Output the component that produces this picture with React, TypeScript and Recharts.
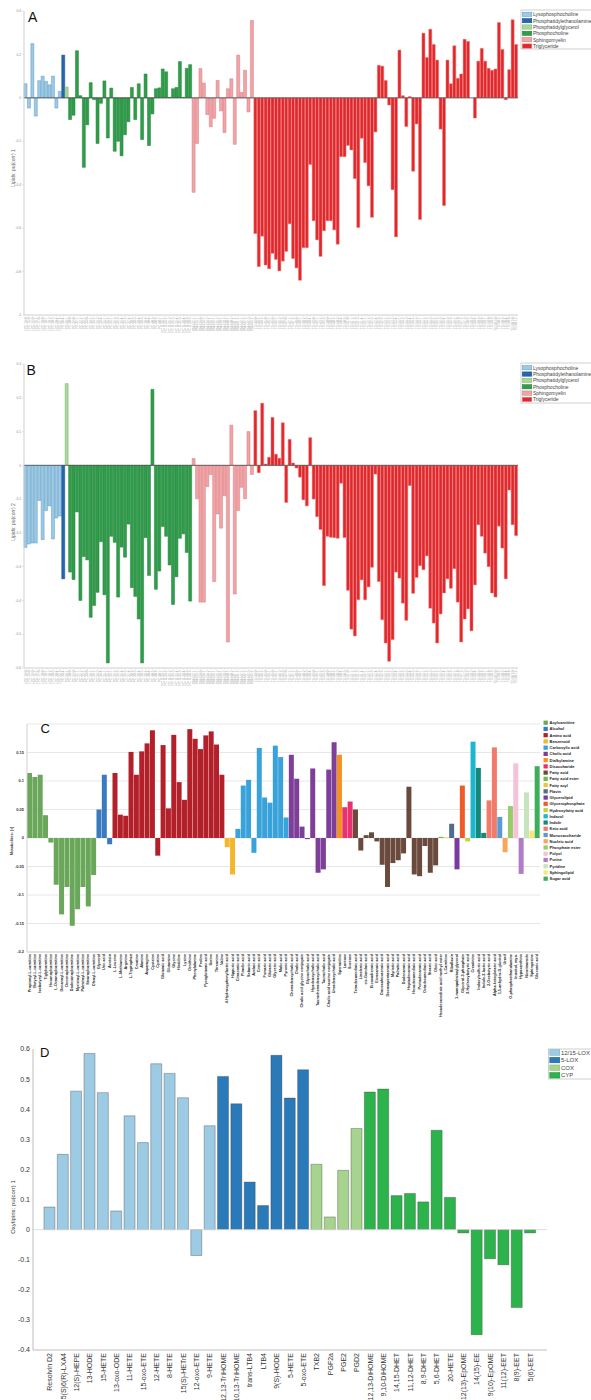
import React from 'react';
import { BarChart, Bar, XAxis, YAxis, Cell, ReferenceLine, CartesianGrid } from 'recharts';

const FONT = '"Liberation Sans", Arial, sans-serif';

// ---------- Panels A / B : lipids ----------
const lipidClasses = ['Lysophosphocholine', 'Phosphatidylethanolamine', 'Phosphatidylglycerol', 'Phosphocholine', 'Sphingomyelin', 'Triglyceride'];
const lipidColors = ['#9dc9e3', '#2467ae', '#a9d69a', '#2f9d4a', '#f2a3a6', '#e0282c'];
const lipidEdges = ['#5d9ac6', '#1b4e86', '#7cb56a', '#23803a', '#d37a7e', '#f07677'];

const lpcNames = ['LPC 14:0', 'LPC 15:0', 'LPC 16:0', 'LPC 16:1', 'LPC 17:0', 'LPC 18:0', 'LPC 18:1', 'LPC 18:2', 'LPC 20:3', 'LPC 20:4', 'LPC 22:6'];
const peNames = ['PE 38:4'];
const pgNames = ['PG 34:1'];
const pcNames = ['PC 30:0', 'PC 32:0', 'PC 32:1', 'PC 32:2', 'PC 33:1', 'PC 34:0', 'PC 34:1', 'PC 34:2', 'PC 34:3', 'PC 34:4', 'PC 35:1', 'PC 35:2', 'PC 36:1', 'PC 36:2', 'PC 36:3', 'PC 36:4', 'PC 36:5', 'PC 37:4', 'PC 38:2', 'PC 38:3', 'PC 38:4', 'PC 38:5', 'PC 38:6', 'PC 40:4', 'PC 40:5', 'PC 40:6', 'PC 40:7', 'PC O-34:1', 'PC O-34:2', 'PC O-36:2', 'PC O-36:3', 'PC O-36:4', 'PC O-36:5', 'PC O-38:4', 'PC O-38:5', 'PC O-38:6'];
const smNames = ['SM d32:1', 'SM d33:1', 'SM d34:0', 'SM d34:1', 'SM d34:2', 'SM d35:1', 'SM d36:1', 'SM d36:2', 'SM d38:1', 'SM d38:2', 'SM d40:1', 'SM d40:2', 'SM d41:1', 'SM d41:2', 'SM d42:1', 'SM d42:2', 'SM d42:3', 'SM d43:2'];
const tgNames = ['TG 44:0', 'TG 44:1', 'TG 44:2', 'TG 45:0', 'TG 45:1', 'TG 46:0', 'TG 46:1', 'TG 46:2', 'TG 46:3', 'TG 47:0', 'TG 47:1', 'TG 47:2', 'TG 48:0', 'TG 48:1', 'TG 48:2', 'TG 48:3', 'TG 48:4', 'TG 49:0', 'TG 49:1', 'TG 49:2', 'TG 49:3', 'TG 50:0', 'TG 50:1', 'TG 50:2', 'TG 50:3', 'TG 50:4', 'TG 50:5', 'TG 51:0', 'TG 51:1', 'TG 51:2', 'TG 51:3', 'TG 51:4', 'TG 52:1', 'TG 52:2', 'TG 52:3', 'TG 52:4', 'TG 52:5', 'TG 52:6', 'TG 53:1', 'TG 53:2', 'TG 53:3', 'TG 53:4', 'TG 54:1', 'TG 54:2', 'TG 54:3', 'TG 54:4', 'TG 54:5', 'TG 54:6', 'TG 54:7', 'TG 55:1', 'TG 55:2', 'TG 55:3', 'TG 56:1', 'TG 56:2', 'TG 56:3', 'TG 56:4', 'TG 56:5', 'TG 56:6', 'TG 56:7', 'TG 56:8', 'TG 57:2', 'TG 57:3', 'TG 58:2', 'TG 58:3', 'TG 58:4', 'TG 58:5', 'TG 58:6', 'TG 58:7', 'TG 58:8', 'TG 58:9', 'TG 58:10', 'TG 60:2', 'TG 60:3', 'TG 60:4', 'TG 60:8', 'TG 60:10', 'TG 60:12'];

// pu(corr) 1
const pc1LPC = [0.065, -0.047, 0.25, -0.084, 0.079, 0.1, 0.076, 0.06, 0.1, -0.047, 0.03];
const pc1PE = [0.197];
const pc1PG = [0.05];
const pc1PC = [-0.1, -0.08, 0.217, 0.01, -0.32, -0.124, 0.07, -0.008, -0.21, -0.025, 0.078, -0.185, 0.045, -0.246, -0.2, -0.267, -0.17, -0.11, 0.048, -0.1, 0.065, -0.192, 0.11, -0.22, -0.074, 0.042, 0.046, 0.133, 0.12, 0.002, 0.042, 0.048, 0.167, 0.002, 0.136, 0.153];
const pc1SM = [-0.435, -0.21, 0.135, 0.068, -0.077, -0.133, -0.094, 0.08, -0.06, -0.16, 0.042, 0.088, -0.214, 0.197, 0.025, 0.127, -0.065, 0.357];
const pc1TG = [-0.625, -0.777, -0.637, -0.77, -0.787, -0.716, -0.744, -0.797, -0.752, -0.707, -0.58, -0.74, -0.783, -0.84, -0.69, -0.69, -0.307, -0.566, -0.654, -0.73, -0.612, -0.566, -0.566, -0.608, -0.674, -0.271, -0.271, -0.219, -0.24, -0.372, -0.597, -0.186, -0.298, -0.405, -0.55, -0.157, 0.15, 0.146, 0.08, -0.033, -0.423, -0.64, 0.22, 0.01, -0.132, 0.006, -0.338, -0.12, -0.56, 0.298, 0.186, 0.316, 0.246, 0.174, -0.144, -0.496, 0.174, 0.065, 0.24, 0.09, 0.11, 0.27, 0.26, 0.0, -0.093, 0.169, 0.228, 0.169, 0.136, 0.127, 0.133, 0.347, 0.223, -0.009, 0.13, 0.36, 0.246];

// pu(corr) 2
const pc2LPC = [-0.243, -0.233, -0.23, -0.23, -0.104, -0.22, -0.134, -0.12, -0.218, -0.156, -0.15];
const pc2PE = [-0.336];
const pc2PG = [0.242];
const pc2PC = [-0.316, -0.338, -0.138, -0.4, -0.27, -0.28, -0.45, -0.415, -0.376, -0.226, -0.383, -0.585, -0.21, -0.228, -0.39, -0.242, -0.272, -0.174, -0.362, -0.388, -0.455, -0.585, -0.214, -0.326, 0.225, -0.367, -0.313, -0.181, -0.21, -0.295, -0.412, -0.33, -0.216, -0.203, -0.258, -0.402];
const pc2SM = [0.02, -0.099, -0.405, -0.405, -0.063, -0.027, -0.344, -0.144, -0.186, -0.09, -0.523, 0.119, -0.381, -0.134, -0.065, -0.099, 0.1, -0.027];
const pc2TG = [0.162, -0.022, 0.184, 0.004, 0.024, 0.142, 0.033, 0.021, 0.126, -0.11, 0.077, 0.007, -0.008, -0.035, -0.102, -0.12, 0.082, -0.1, -0.152, -0.19, -0.356, -0.21, -0.213, -0.214, -0.216, -0.053, -0.214, -0.37, -0.485, -0.505, -0.398, -0.339, -0.398, -0.36, -0.302, -0.026, -0.344, -0.457, -0.526, -0.58, -0.516, -0.316, -0.334, -0.408, -0.459, -0.06, -0.379, -0.332, -0.297, -0.309, -0.268, -0.423, -0.467, -0.526, -0.44, -0.378, -0.336, -0.364, -0.306, -0.405, -0.523, -0.455, -0.425, -0.49, -0.354, -0.176, -0.21, -0.26, -0.3, -0.378, -0.39, -0.18, -0.245, -0.336, -0.073, -0.176, -0.208];

const ticksA = [-1, -0.8, -0.6, -0.4, -0.2, 0, 0.2, 0.4];
const ticksB = [-0.6, -0.5, -0.4, -0.3, -0.2, -0.1, 0, 0.1, 0.2, 0.3];

const lipidGroups = [lpcNames, peNames, pgNames, pcNames, smNames, tgNames];
const pc1 = [...pc1LPC, ...pc1PE, ...pc1PG, ...pc1PC, ...pc1SM, ...pc1TG];
const pc2 = [...pc2LPC, ...pc2PE, ...pc2PG, ...pc2PC, ...pc2SM, ...pc2TG];
const lipidRows = lipidGroups
  .flatMap((names, c) => names.map((name) => ({ name, cls: c })))
  .map((r, i) => ({ ...r, a: pc1[i], b: pc2[i] }));

// ---------- Panel C : metabolites ----------
const metaboliteClasses = ['Acylcarnitine', 'Alcohol', 'Amino acid', 'Benzenoid', 'Carboxylic acid', 'Cholic acid', 'Dialkylamine', 'Disaccharide', 'Fatty acid', 'Fatty acid ester', 'Fatty acyl', 'Flavin', 'Glycerolipid', 'Glycerophosphate', 'Hydroxyfatty acid', 'Indazol', 'Indole', 'Keto acid', 'Monosaccharide', 'Nucleic acid', 'Phosphate ester', 'Polyol', 'Purine', 'Pyridine', 'Sphingolipid', 'Sugar acid'];
const metaboliteColors = ['#6aa75a', '#3a7bc0', '#b3202a', '#f4b62a', '#3aa2da', '#7e3f98', '#f5921e', '#e8316f', '#6b4a3e', '#6cba50', '#f3c33e', '#4e6e8e', '#7b3aa0', '#f05a2a', '#c4d23a', '#1db6d0', '#14897a', '#f07b6b', '#5a9bd5', '#f8a65b', '#98cb6a', '#f6c2d8', '#b07cc6', '#c6e4bf', '#f9e57a', '#3fae5b'];
const metaboliteClassSizes = [13, 3, 21, 2, 10, 9, 1, 2, 16, 1, 1, 1, 1, 1, 1, 1, 2, 2, 1, 1, 1, 1, 1, 1, 1, 1];
const metaboliteNames = [
  'Propionyl-L-carnitine', 'Butyryl-L-carnitine', 'Isobutyryl-L-carnitine', 'Tiglylcarnitine', 'Hexanoylcarnitine', 'L-Octanoylcarnitine', 'Decanoyl-L-carnitine', 'Decenoylcarnitine', 'Dodecanoylcarnitine', 'Myristoyl-L-carnitine', 'Palmitoyl-L-carnitine', 'Stearoylcarnitine', 'Oleoyl-L-carnitine',
  'Glycerol', 'Uric acid', 'Acetoin',
  'L-Leucine', 'L-Methionine', 'Arginine', 'L-Tryptophan', 'Creatine', 'Alanine', 'Asparagine', 'Cysteine', 'Cystine', 'Glutamic acid', 'Glutamine', 'Glycine', 'Histidine', 'Lysine', 'Ornithine', 'Phenylalanine', 'Proline', 'Pyroglutamic acid', 'Serine', 'Threonine', 'Valine',
  '4-Hydroxyphenyllactic acid', 'Hippuric acid',
  'Citraconic acid', 'Pimelic acid', 'Sebacic acid', 'Azelaic acid', 'Citric acid', 'Fumaric acid', 'Glutaric acid', 'Glyceric acid', 'Malic acid', 'Pyruvic acid',
  'Chenodeoxycholic acid', 'Cholic acid', 'Cholic acid glycine conjugate', 'Glycocholic acid', 'Hyodeoxycholic acid', 'Taurochenodeoxycholic acid', 'Taurocholic acid', 'Cholic acid taurine conjugate', 'Ursodeoxycholic acid',
  'Spermidine',
  'Lactose', 'Sucrose',
  'Tetradecanedioic acid', 'Linolenic acid', 'cis-Gondoic acid', 'Eicosadienoic acid', 'Eicosanoic acid', 'Docosahexaenoic acid', 'Docosapentaenoic acid', 'Myristic acid', 'Palmitic acid', 'Dodecanoic acid', 'Heptadecanoic acid', 'Hexadecanedioic acid', 'Pentadecanoic acid', 'Octadecanedioic acid', 'Stearic acid', 'Oleic acid',
  'Hexadecanedioic acid methyl ester', 'L-Carnitine', 'Riboflavin', '1-monopalmitoylglycerol', 'Glycerol-3-phosphate', '3-Hydroxybutyric acid', 'Creatinine',
  'Indoxylsulfuric acid', 'Indole-3-lactic acid', '2-Oxobutyric acid', 'Alpha-ketoglutaric acid',
  '1,5-anhydro-D-glucitol', 'Uracil', 'O-phosphoethanolamine', 'Inositol, myo-', 'Hypoxanthine', 'Nicotinamide', 'Sphingosine', 'Gluconic acid',
];
const metaboliteR = [
  0.114, 0.107, 0.111, 0.04, -0.008, -0.082, -0.134, -0.086, -0.154, -0.125, -0.086, -0.12, -0.065,
  0.05, 0.111, -0.011,
  0.114, 0.041, 0.039, 0.151, 0.111, 0.152, 0.166, 0.189, -0.031, 0.163, 0.052, 0.181, 0.098, 0.067, 0.191, 0.174, 0.156, 0.18, 0.187, 0.164, 0.111,
  -0.016, -0.064,
  0.016, 0.092, 0.102, -0.026, 0.158, 0.071, 0.062, 0.162, 0.142, 0.036,
  0.146, 0.104, 0.02, -0.002, 0.122, -0.061, -0.055, 0.12, 0.168,
  0.146,
  0.054, 0.064,
  0.05, -0.022, 0.005, 0.01, -0.006, -0.047, -0.086, -0.044, -0.039, -0.027, 0.09, -0.064, -0.067, -0.014, -0.061, -0.048,
  0.002, 0.001, 0.025, -0.055, 0.092, -0.006, 0.169,
  0.123, 0.009, 0.066, 0.159,
  0.037, -0.025, 0.056, 0.131, -0.063, 0.08, 0.013, 0.126,
];
const ticksC = [-0.2, -0.15, -0.1, -0.05, 0, 0.05, 0.1, 0.15];

const metaboliteClassOf = metaboliteClassSizes.flatMap((n, c) => Array(n).fill(c));
const metaboliteRows = metaboliteNames.map((name, i) => ({ name, r: metaboliteR[i], cls: metaboliteClassOf[i] }));

// ---------- Panel D : oxylipins ----------
const pathways = ['12/15-LOX', '5-LOX', 'COX', 'CYP'];
const pathwayColors = ['#9dcbe4', '#2a7aba', '#a6d38d', '#2db34b'];
const pathwaySizes = [13, 7, 4, 13];
const oxylipinNames = ['Resolvin D2', '5(S)6(R)-LXA4', '12(S)-HEPE', '13-HODE', '15-HETE', '13-oxo-ODE', '11-HETE', '15-oxo-ETE', '12-HETE', '8-HETE', '15(S)-HETrE', '12-oxo-ETE', '9-HETE',
  '12,13-TriHOME', '9,10,13-TriHOME', 'trans-LTB4', 'LTB4', '9(S)-HODE', '5-HETE', '5-oxo-ETE',
  'TXB2', 'PGF2a', 'PGE2', 'PGD2',
  '12,13-DiHOME', '9,10-DiHOME', '14,15-DHET', '11,12-DHET', '8,9-DHET', '5,6-DHET', '20-HETE', '12(13)-EpOME', '14(15)-EE', '9(10)-EpOME', '11(12)-EET', '8(9)-EET', '5(6)-EET'];
const oxylipinValues = [0.075, 0.25, 0.46, 0.585, 0.455, 0.062, 0.378, 0.289, 0.551, 0.519, 0.438, -0.086, 0.345,
  0.509, 0.418, 0.158, 0.08, 0.579, 0.437, 0.531,
  0.217, 0.042, 0.197, 0.336,
  0.457, 0.467, 0.113, 0.12, 0.092, 0.33, 0.107, -0.011, -0.349, -0.097, -0.117, -0.259, -0.011];
const ticksD = [-0.4, -0.3, -0.2, -0.1, 0, 0.1, 0.2, 0.3, 0.4, 0.5, 0.6];

const pathwayOf = pathwaySizes.flatMap((n, c) => Array(n).fill(c));
const oxylipinRows = oxylipinNames.map((name, i) => ({ name, v: oxylipinValues[i], cls: pathwayOf[i] }));

// rotated category label, reads bottom to top
const RotatedTick = (props: any) => {
  const { x, y, payload, size, color, weight } = props;
  return (
    <text x={x} y={y} transform={`rotate(-90 ${x} ${y})`} textAnchor="end" dominantBaseline="central"
      fontSize={size} fill={color} fontWeight={weight || 'normal'}>
      {payload.value}
    </text>
  );
};

const LipidPanel = ({ valueKey, domain, ticks, height, axisH }: any) => (
  <BarChart width={591} height={height} data={lipidRows} margin={{ top: 11, right: 73, bottom: 0, left: 0 }} barCategoryGap={0}>
    <XAxis dataKey="name" interval={0} height={axisH} tickSize={2} tickMargin={0.5}
      axisLine={{ stroke: '#cfcfcf' }} tickLine={{ stroke: '#dadada', strokeWidth: 0.4 }}
      tick={(p: any) => <RotatedTick {...p} size={3.2} color="#a8a8a8" />} />
    <YAxis type="number" domain={domain} ticks={ticks} interval={0} width={24} tickSize={2} tickMargin={1}
      axisLine={{ stroke: '#cfcfcf' }} tickLine={{ stroke: '#cfcfcf', strokeWidth: 0.5 }}
      tick={{ fontSize: 3.3, fill: '#8a8a8a' }} />
    <Bar dataKey={valueKey} isAnimationActive={false}>
      {lipidRows.map((r, i) => (
        <Cell key={i} fill={lipidColors[r.cls]} stroke={lipidEdges[r.cls]} strokeWidth={0.5} />
      ))}
    </Bar>
    <ReferenceLine y={0} stroke="#4a4a4a" strokeWidth={0.8} />
  </BarChart>
);

const MetabolitePanel = () => (
  <BarChart width={591} height={318} data={metaboliteRows} margin={{ top: 9, right: 51, bottom: 0, left: 0 }} barCategoryGap={0}>
    <CartesianGrid vertical={false} stroke="#dcdcdc" strokeWidth={0.7} />
    <XAxis dataKey="name" interval={0} height={81} tickSize={0} tickMargin={2} tickLine={false}
      axisLine={{ stroke: '#cfcfcf' }}
      tick={(p: any) => <RotatedTick {...p} size={3.8} color="#2a2a2a" weight="bold" />} />
    <YAxis type="number" domain={[-0.2, 0.2]} ticks={ticksC} interval={0} width={27} tickSize={2} tickMargin={1}
      axisLine={{ stroke: '#cfcfcf' }} tickLine={false}
      tick={{ fontSize: 4, fill: '#333', fontWeight: 'bold' }} />
    <Bar dataKey="r" isAnimationActive={false}>
      {metaboliteRows.map((r, i) => (
        <Cell key={i} fill={metaboliteColors[r.cls]} />
      ))}
    </Bar>
  </BarChart>
);

const OxylipinPanel = () => (
  <BarChart width={591} height={370} data={oxylipinRows} margin={{ top: 19, right: 44, bottom: 0, left: 0 }} barCategoryGap="7%">
    <XAxis dataKey="name" interval={0} height={50} tickSize={0} tickMargin={3} tickLine={false}
      padding={{ left: 10, right: 10 }} axisLine={{ stroke: '#bdbdbd' }}
      tick={(p: any) => <RotatedTick {...p} size={7} color="#333" />} />
    <YAxis type="number" domain={[-0.4, 0.6]} ticks={ticksD} interval={0} width={33} tickSize={2} tickMargin={1}
      axisLine={{ stroke: '#bdbdbd' }} tickLine={false}
      tick={{ fontSize: 7, fill: '#333' }} />
    <ReferenceLine y={0} stroke="#d6d6d6" strokeWidth={0.8} />
    <Bar dataKey="v" isAnimationActive={false}>
      {oxylipinRows.map((r, i) => (
        <Cell key={i} fill={pathwayColors[r.cls]} stroke="rgba(50,50,50,0.55)" strokeWidth={0.6} />
      ))}
    </Bar>
  </BarChart>
);

// boxed legend as used in A, B, D
const boxLegend = (labels: string[], colors: string[], edges: string[], x: number, y: number, w: number, h: number, y0: number, step: number, sw: number, sh: number, fs: number) => (
  <g>
    <rect x={x} y={y} width={w} height={h} fill="#fff" stroke="#c4c4c4" strokeWidth={0.8} />
    {labels.map((lab, i) => (
      <g key={lab}>
        <rect x={x + 1.3} y={y0 + step * i - sh / 2} width={sw} height={sh} fill={colors[i]} stroke={edges[i]} strokeWidth={0.5} />
        <text x={x + sw + 2.4} y={y0 + step * i} dominantBaseline="central" fontSize={fs} fill="#444">{lab}</text>
      </g>
    ))}
  </g>
);

const axisTitle = (text: string, x: number, y: number, fs: number, color: string, weight = 'normal') => (
  <text x={x} y={y} transform={`rotate(-90 ${x} ${y})`} textAnchor="middle" dominantBaseline="central"
    fontSize={fs} fill={color} fontWeight={weight}>{text}</text>
);

export default function App() {
  return (
    <div style={{ position: 'absolute', left: 0, top: 0, width: 591, height: 1400, overflow: 'hidden', background: '#fff', fontFamily: FONT }}>
      <div style={{ position: 'absolute', left: 0, top: 0 }}>
        <LipidPanel valueKey="a" domain={[-1, 0.4]} ticks={ticksA} height={336} axisH={21} />
      </div>
      <div style={{ position: 'absolute', left: 0, top: 353 }}>
        <LipidPanel valueKey="b" domain={[-0.6, 0.3]} ticks={ticksB} height={337} axisH={22} />
      </div>
      <div style={{ position: 'absolute', left: 0, top: 715 }}>
        <MetabolitePanel />
      </div>
      <div style={{ position: 'absolute', left: 0, top: 1030 }}>
        <OxylipinPanel />
      </div>

      <svg width={591} height={1400} style={{ position: 'absolute', left: 0, top: 0, pointerEvents: 'none', fontFamily: FONT }}>
        <text x={28} y={22} fontSize={14} fill="#111">A</text>
        <text x={26.5} y={375.3} fontSize={14} fill="#111">B</text>
        <text x={40.5} y={732.7} fontSize={13} fill="#111">C</text>
        <text x={40} y={1057.3} fontSize={13} fill="#111">D</text>

        {axisTitle('Lipids: pu(corr) 1', 13, 168, 5, '#666')}
        {axisTitle('Lipids: pu(corr) 2', 13, 522, 5, '#666')}
        {axisTitle('Metabolites: [r]', 11.5, 841, 4, '#333', 'bold')}
        {axisTitle('Oxylipins: pu(corr) 1', 12.5, 1207, 6, '#333')}

        {boxLegend(lipidClasses, lipidColors, lipidEdges, 521, 10, 75, 39, 14.3, 6.35, 9.5, 4.3, 5)}
        {boxLegend(lipidClasses, lipidColors, lipidEdges, 521, 363, 75, 40, 367.7, 6.35, 9.5, 4.3, 5)}
        {boxLegend(pathways, pathwayColors, ['#6aa3c8', '#1f5d91', '#80b46a', '#21893a'], 548.5, 1049, 50, 30, 1052.5, 7.6, 10, 5.5, 6)}

        {metaboliteClasses.map((lab, i) => (
          <g key={lab}>
            <rect x={543.5} y={722.7 + 6.24 * i - 2.1} width={4.3} height={4.2} fill={metaboliteColors[i]} />
            <text x={549.5} y={722.7 + 6.24 * i} dominantBaseline="central" fontSize={4} fontWeight="bold" fill="#222">{lab}</text>
          </g>
        ))}
      </svg>
    </div>
  );
}
